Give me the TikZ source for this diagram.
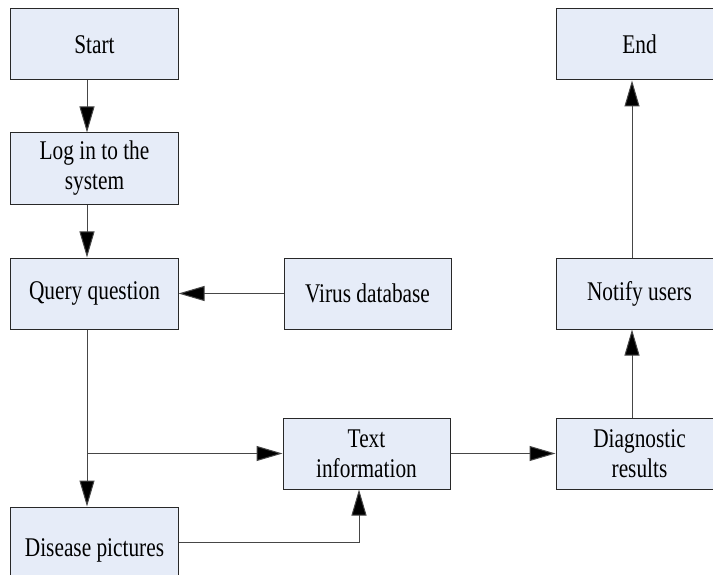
\documentclass[tikz,border=0pt]{standalone}
\usepackage{fontspec}
\setmainfont[FakeStretch=0.79]{Liberation Serif}
\usetikzlibrary{arrows.meta}
\definecolor{boxfill}{RGB}{230,236,248}
\definecolor{boxline}{RGB}{40,40,40}
\definecolor{conn}{RGB}{70,70,70}
\tikzset{
  flowbox/.style={draw=boxline, fill=boxfill, line width=1bp, minimum width=167bp, minimum height=71bp, inner sep=0pt, align=center, font=\fontsize{27bp}{30bp}\selectfont},
  arr/.style={draw=conn, line width=1bp, -{Triangle[length=26bp,width=15bp,fill=black]}},
  ln/.style={draw=conn, line width=1bp}
}
\begin{document}
\begin{tikzpicture}[x=1bp,y=-1bp]
\useasboundingbox (0,0) rectangle (713,575);
\node[flowbox] (start) at (94.5,44.5) {Start};
\node[flowbox] (login) at (94.5,168.5) {Log in to the\\system};
\node[flowbox] (query) at (94.5,293.5) {Query question};
\node[flowbox] (virus) at (367.5,293.5) {Virus database};
\node[flowbox] (text) at (366.5,453.5) {Text\\information};
\node[flowbox] (diag) at (639.5,453.5) {Diagnostic\\results};
\node[flowbox, minimum height=86bp] (disease) at (94.5,550) {Disease pictures};
\node[flowbox] (notify) at (639.5,293.5) {Notify users};
\node[flowbox] (end) at (639.5,44.5) {End};
\coordinate (cL) at (87,0);
\coordinate (cM) at (359,0);
\coordinate (cR) at (632,0);
\coordinate (cD) at (0,542.5);
\draw[arr] (start.south -| cL) -- (login.north -| cL);
\draw[arr] (login.south -| cL) -- (query.north -| cL);
\draw[arr] (virus.west) -- (query.east);
\draw[arr] (query.south -| cL) -- (disease.north -| cL);
\coordinate (br) at (text.west -| cL);
\draw[arr] (br) -- (text.west);
\draw[arr] (disease.east |- cD) -| (text.south -| cM);
\draw[arr] (text.east) -- (diag.west);
\draw[arr] (diag.north -| cR) -- (notify.south -| cR);
\draw[arr] (notify.north -| cR) -- (end.south -| cR);
\end{tikzpicture}
\end{document}
